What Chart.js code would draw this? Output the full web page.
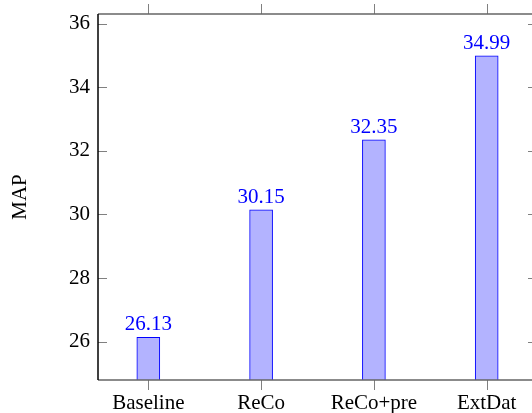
<!DOCTYPE html>
<html>
<head>
<meta charset="utf-8">
<script src="https://cdn.jsdelivr.net/npm/chart.js@4/dist/chart.umd.min.js"></script>
<style>
  html, body { margin: 0; padding: 0; background: #fff; }
  .wrap { width: 532px; height: 413px; overflow: hidden; }
</style>
</head>
<body>
<div class="wrap"><canvas id="mapChart" width="560" height="413"></canvas></div>
<script>
const categories = ['Baseline', 'ReCo', 'ReCo+pre', 'ExtDat'];
const mapValues = [26.13, 30.15, 32.35, 34.99];
const yTicks = [26, 28, 30, 32, 34, 36];

const FONT = '"Liberation Serif", "Times New Roman", serif';
const gray = '#808080';

// frame + pgfplots-like ticks (y inside, x outside top and bottom)
const framePlugin = {
    id: 'frame',
    afterDraw(chart) {
        const ctx = chart.ctx;
        const a = chart.chartArea;
        const xs = chart.scales.x;
        const ys = chart.scales.y;
        ctx.save();
        ctx.lineWidth = 1;
        ctx.strokeStyle = gray;
        ctx.beginPath();
        yTicks.forEach(v => {
            const py = Math.round(ys.getPixelForValue(v)) + 0.5;
            ctx.moveTo(a.left, py); ctx.lineTo(a.left + 9, py);
            ctx.moveTo(a.right, py); ctx.lineTo(a.right - 9, py);
        });
        categories.forEach((c, i) => {
            const px = Math.round(xs.getPixelForValue(i)) + 0.5;
            ctx.moveTo(px, a.bottom); ctx.lineTo(px, a.bottom + 10);
            ctx.moveTo(px, a.top); ctx.lineTo(px, a.top - 10);
        });
        ctx.stroke();
        ctx.lineWidth = 1.5;
        ctx.strokeStyle = '#666';
        ctx.beginPath();
        ctx.moveTo(a.left, a.top); ctx.lineTo(a.right, a.top);
        ctx.moveTo(a.left, a.bottom); ctx.lineTo(a.right, a.bottom);
        ctx.moveTo(a.right, a.top); ctx.lineTo(a.right, a.bottom);
        ctx.stroke();
        ctx.strokeStyle = '#000';
        ctx.beginPath();
        ctx.moveTo(a.left, a.top); ctx.lineTo(a.left, a.bottom);
        ctx.stroke();
        ctx.restore();
    }
};

const valueLabels = {
    id: 'valueLabels',
    afterDatasetsDraw(chart) {
        const ctx = chart.ctx;
        ctx.save();
        ctx.font = '21px ' + FONT;
        ctx.fillStyle = '#0000ff';
        ctx.textAlign = 'center';
        ctx.textBaseline = 'alphabetic';
        chart.getDatasetMeta(0).data.forEach((bar, i) => {
            ctx.fillText(mapValues[i].toFixed(2), bar.x, bar.y - 7);
        });
        ctx.restore();
    }
};

new Chart(document.getElementById('mapChart'), {
    type: 'bar',
    data: {
        datasets: [{
            label: 'MAP',
            data: categories.map((c, i) => ({ x: i, y: mapValues[i] })),
            backgroundColor: 'rgb(179, 179, 255)',
            borderColor: '#0000ff',
            borderWidth: 1,
            barThickness: 23
        }]
    },
    options: {
        responsive: false,
        animation: false,
        layout: { padding: { top: 14, right: 23, left: 0, bottom: 0 } },
        plugins: { legend: { display: false }, tooltip: { enabled: false } },
        scales: {
            x: {
                type: 'linear',
                min: -0.446,
                max: 3.446,
                offset: false,
                grid: { display: false, drawTicks: false },
                border: { display: false },
                afterBuildTicks: scale => { scale.ticks = categories.map((c, i) => ({ value: i })); },
                afterFit: scale => {
                    scale.height = 33;
                    scale.paddingLeft = 0;
                    scale.paddingRight = 0;
                },
                ticks: {
                    padding: 11,
                    color: '#000',
                    font: { family: FONT, size: 21 },
                    maxRotation: 0,
                    autoSkip: false,
                    callback: v => categories[v]
                }
            },
            y: {
                min: 24.79,
                max: 36.31,
                grid: { display: false, drawTicks: false },
                border: { display: false },
                afterBuildTicks: scale => { scale.ticks = yTicks.map(v => ({ value: v })); },
                afterFit: scale => {
                    scale.width = 98;
                    scale.paddingTop = 0;
                    scale.paddingBottom = 0;
                },
                ticks: {
                    padding: 8,
                    color: '#000',
                    font: { family: FONT, size: 21 }
                },
                title: {
                    display: true,
                    text: 'MAP',
                    color: '#000',
                    font: { family: FONT, size: 21 },
                    padding: { top: 8 }
                }
            }
        }
    },
    plugins: [framePlugin, valueLabels]
});
</script>
</body>
</html>
